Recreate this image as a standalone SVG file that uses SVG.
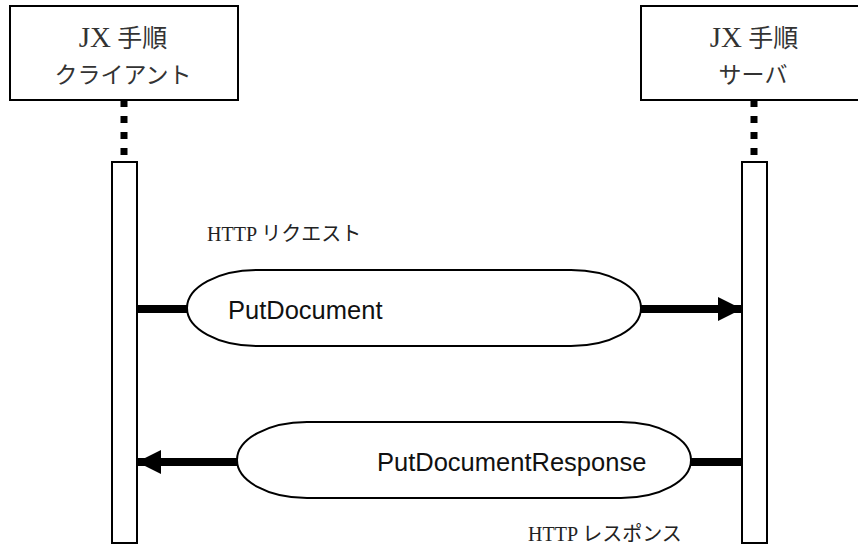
<svg xmlns="http://www.w3.org/2000/svg" width="858" height="546" viewBox="0 0 858 546">
<style>
.box{fill:#fff;stroke:#000;stroke-width:2}
.bar{fill:#fff;stroke:#000;stroke-width:2}
.pill{fill:#fff;stroke:#000;stroke-width:2}
.dot{stroke:#000;stroke-width:7;stroke-dasharray:7 9;fill:none}
.wire{stroke:#000;stroke-width:8;fill:none}
.jp{font-family:"Liberation Serif","Noto Sans CJK JP",serif;font-size:25px;fill:#333}
.jx{font-size:29px}
.jp2{font-family:"Liberation Serif","Noto Sans CJK JP",serif;font-size:23px;fill:#333}
.lab{font-family:"Liberation Serif","Noto Sans CJK JP",serif;font-size:20px;fill:#222}
.msg{font-family:"Liberation Sans","Noto Sans",sans-serif;font-size:25.5px;fill:#111}
</style>
<defs>
<marker id="ah" markerUnits="userSpaceOnUse" markerWidth="26" markerHeight="26" refX="24" refY="12" orient="auto">
<path d="M0,0 L24,12 L0,24 Z" fill="#000"/>
</marker>
</defs>
<rect width="858" height="546" fill="#fff"/>
<g id="client">
<rect class="box" x="10" y="6" width="228" height="94"/>
<text class="jp" x="123" y="47" text-anchor="middle"><tspan class="jx">JX</tspan> 手順</text>
<text class="jp2" x="123" y="83" text-anchor="middle">クライアント</text>
</g>
<g id="server">
<rect class="box" x="641" y="6" width="230" height="94"/>
<text class="jp" x="754" y="47" text-anchor="middle"><tspan class="jx">JX</tspan> 手順</text>
<text class="jp2" x="753" y="83" text-anchor="middle">サーバ</text>
</g>
<g id="client-bar">
<rect class="bar" x="112" y="162" width="25" height="381"/>
</g>
<g id="server-bar">
<rect class="bar" x="742" y="162" width="25" height="381"/>
</g>
<g id="request">
<rect class="pill" x="187" y="270" width="454" height="76" rx="70" ry="38"/>
<text class="msg" x="228" y="319">PutDocument</text>
</g>
<g id="response">
<rect class="pill" x="237" y="422" width="454" height="76" rx="70" ry="38"/>
<text class="msg" x="377" y="471">PutDocumentResponse</text>
</g>
<g id="connectors">
<line class="dot" x1="124" y1="100" x2="124" y2="158"/>
<line class="dot" x1="754" y1="100" x2="754" y2="158"/>
<line class="wire" x1="137" y1="309" x2="187" y2="309"/>
<line class="wire" x1="641" y1="309" x2="742" y2="309" marker-end="url(#ah)"/>
<line class="wire" x1="742" y1="462" x2="691" y2="462"/>
<line class="wire" x1="237" y1="462" x2="137" y2="462" marker-end="url(#ah)"/>
</g>
<g id="labels">
<text class="lab" x="207" y="241">HTTP リクエスト</text>
<text class="lab" x="528" y="541">HTTP レスポンス</text>
</g>
</svg>
